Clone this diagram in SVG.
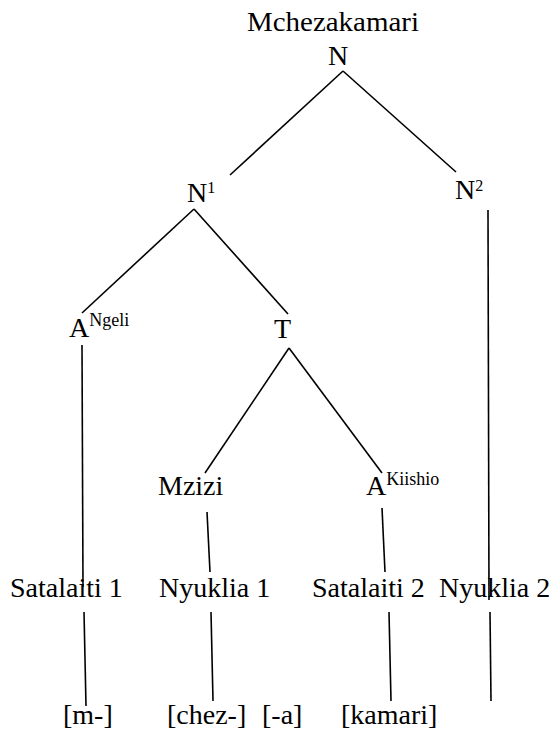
<svg xmlns="http://www.w3.org/2000/svg" width="555" height="731" viewBox="0 0 555 731">
<style>
text{font-family:'Liberation Serif','Times New Roman',Tinos,'DejaVu Serif',serif;font-size:28px;fill:#000}
.sup{font-size:18px}
.dig{font-size:16px}
#edges line{stroke:#000;stroke-width:1.6;stroke-linecap:butt}
</style>
<rect width="555" height="731" fill="#fff"/>
<g id="edges">
<line x1="343" y1="71" x2="230" y2="175"/>
<line x1="343" y1="71" x2="456" y2="172"/>
<line x1="194" y1="209" x2="82" y2="313"/>
<line x1="194" y1="209" x2="288" y2="314"/>
<line x1="289" y1="348" x2="205" y2="473"/>
<line x1="289" y1="348" x2="382" y2="473"/>
<line x1="82" y1="345" x2="83" y2="587"/>
<line x1="488" y1="210" x2="489" y2="600"/>
<line x1="207" y1="512" x2="210" y2="572"/>
<line x1="382" y1="508" x2="385" y2="572"/>
<line x1="84" y1="612" x2="86" y2="706"/>
<line x1="211" y1="612" x2="213" y2="701"/>
<line x1="389" y1="612" x2="391" y2="701"/>
<line x1="490" y1="612" x2="491" y2="701"/>
</g>
<g font-family="Liberation Serif, Times New Roman, serif">
<g id="root"><text x="247" y="31" textLength="172" lengthAdjust="spacingAndGlyphs">Mchezakamari</text><text x="328" y="65">N</text></g>
<g id="n1"><text x="187" y="202">N<tspan class="dig" dy="-9">1</tspan></text></g>
<g id="n2"><text x="455" y="199">N<tspan class="dig" dy="-8">2</tspan></text></g>
<g id="angeli"><text x="69" y="337">A<tspan class="sup" dy="-11">Ngeli</tspan></text></g>
<g id="t"><text x="274" y="338">T</text></g>
<g id="mzizi"><text x="158" y="495">Mzizi</text></g>
<g id="akiishio"><text x="366" y="495">A<tspan class="sup" dy="-10">Kiishio</tspan></text></g>
<g id="satalaiti1"><text x="10" y="597">Satalaiti 1</text></g>
<g id="nyuklia1"><text x="159" y="597">Nyuklia 1</text></g>
<g id="satalaiti2"><text x="312" y="597">Satalaiti 2</text></g>
<g id="nyuklia2"><text x="439" y="597">Nyuklia 2</text></g>
<g id="m"><text x="63" y="724">[m-]</text></g>
<g id="chez"><text x="167" y="724">[chez-]</text></g>
<g id="a"><text x="262" y="724">[-a]</text></g>
<g id="kamari"><text x="341" y="724">[kamari]</text></g>
</g>
</svg>
